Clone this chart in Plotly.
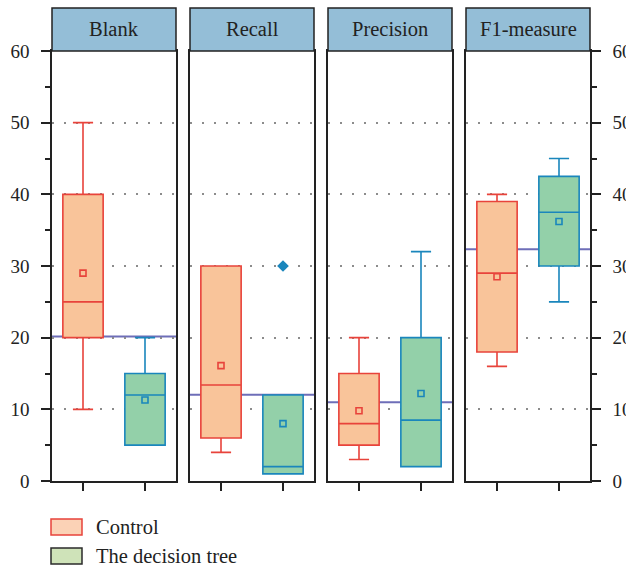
import plotly.graph_objects as go

# Box-plot summaries per measure: (Control, The decision tree)
panels = ["Blank", "Recall", "Precision", "F1-measure"]
groups = ["Control", "The decision tree"]

q1 = [[20, 5], [6, 1], [5, 2], [18, 30]]
median = [[25, 12], [13.4, 2], [8, 8.5], [29, 37.5]]
q3 = [[40, 15], [30, 12], [15, 20], [39, 42.5]]
lower = [[10, 5], [4, 1], [3, 2], [16, 25]]
upper = [[50, 20], [30, 12], [20, 32], [40, 45]]
means = [[29, 11.3], [16.1, 8], [9.8, 12.2], [28.5, 36.2]]
# Outliers: (panel index, group index, value)
outliers = [(1, 1, 30)]

y_ticks = [0, 10, 20, 30, 40, 50, 60]

line_colors = ["#E8433B", "#1A86BC"]
fill_colors = ["#F9C49A", "#93D0A9"]
legend_fill = ["#FBD2B6", "#CFE3B9"]
legend_line = ["#E8433B", "#2B2B2B"]
frame = "#222222"
header_fill = "#94BED7"
mean_line = "#6E6EB8"
font_family = "Liberation Serif, Times New Roman, serif"

fig = go.Figure()

W = 538.0
H = 430.0
starts = [0, 138, 276, 414]
pw = 124

for p in range(4):
    xa = "x" if p == 0 else f"x{p+1}"
    ya = "y" if p == 0 else f"y{p+1}"
    for g in range(2):
        fig.add_trace(go.Box(
            x=[g], q1=[q1[p][g]], median=[median[p][g]], q3=[q3[p][g]],
            lowerfence=[lower[p][g]], upperfence=[upper[p][g]],
            width=0.65, whiskerwidth=0.5, boxpoints=False,
            fillcolor=fill_colors[g],
            line=dict(color=line_colors[g], width=1.6),
            xaxis=xa, yaxis=ya, showlegend=False, name=groups[g],
        ))
        fig.add_trace(go.Scatter(
            x=[g], y=[means[p][g]], mode="markers",
            marker=dict(symbol="square-open", size=6, color=line_colors[g],
                        line=dict(width=1.6, color=line_colors[g])),
            xaxis=xa, yaxis=ya, showlegend=False, hoverinfo="skip",
        ))
    for (op, og, ov) in outliers:
        if op == p:
            fig.add_trace(go.Scatter(
                x=[og], y=[ov], mode="markers",
                marker=dict(symbol="diamond", size=9, color=line_colors[og]),
                xaxis=xa, yaxis=ya, showlegend=False, hoverinfo="skip",
            ))

    # grand mean across both groups
    grand = sum(means[p]) / len(means[p])
    fig.add_shape(type="line", xref=f"{xa} domain", yref=ya,
                  x0=0, x1=1, y0=grand, y1=grand, layer="below",
                  line=dict(color=mean_line, width=2))

    # panel header strip
    fig.add_shape(type="rect", xref=f"{xa} domain", yref="paper",
                  x0=0, x1=1, y0=1, y1=1 + 43 / H,
                  fillcolor=header_fill, line=dict(color=frame, width=1.5))
    fig.add_annotation(text=panels[p], xref=f"{xa} domain", yref="paper",
                       x=0.5, y=1 + 21.5 / H, xanchor="center", yanchor="middle",
                       showarrow=False,
                       font=dict(family=font_family, size=20.5, color="#222"))

    xaxis = dict(
        domain=[starts[p] / W, (starts[p] + pw) / W],
        range=[-0.5, 1.5], tickvals=[0, 1], showticklabels=False,
        ticks="outside", ticklen=8, tickwidth=1.5, tickcolor=frame,
        showline=True, linecolor=frame, linewidth=1.5, mirror=True,
        showgrid=False, zeroline=False, anchor=ya, fixedrange=True,
        automargin=False,
    )
    yaxis = dict(
        range=[0, 60], tickvals=y_ticks, anchor=xa,
        showline=True, linecolor=frame, linewidth=1.5, mirror=True,
        showgrid=True, gridcolor="#8c8c8c", gridwidth=1.5, griddash="2px,10px",
        zeroline=False, fixedrange=True, automargin=False,
    )
    if p == 0:
        yaxis.update(ticks="outside", ticklen=9, tickwidth=1.5, tickcolor=frame,
                     ticklabelstandoff=8,
                     minor=dict(ticks="outside", dtick=5, ticklen=5, tickwidth=1.5,
                                tickcolor=frame, showgrid=False),
                     tickfont=dict(family=font_family, size=19, color="#222"))
    elif p == 3:
        yaxis.update(side="right", ticks="outside", ticklen=9, tickwidth=1.5,
                     tickcolor=frame, ticklabelstandoff=8,
                     minor=dict(ticks="outside", dtick=5, ticklen=5, tickwidth=1.5,
                                tickcolor=frame, showgrid=False),
                     tickfont=dict(family=font_family, size=19, color="#222"))
    else:
        yaxis.update(showticklabels=False, ticks="")
    if p > 0:
        yaxis["matches"] = "y"
    fig.update_layout({("xaxis" if p == 0 else f"xaxis{p+1}"): xaxis,
                       ("yaxis" if p == 0 else f"yaxis{p+1}"): yaxis})

# legend drawn beneath the panels
legend_rows = [-46 / H, -75 / H]
for g in range(2):
    yc = legend_rows[g]
    fig.add_shape(type="rect", xref="paper", yref="paper",
                  x0=-1 / W, x1=30 / W, y0=yc + 8 / H, y1=yc - 8 / H,
                  fillcolor=legend_fill[g], line=dict(color=legend_line[g], width=1.5))
    fig.add_annotation(text=groups[g], xref="paper", yref="paper",
                       x=42 / W, y=yc, xanchor="left", yanchor="middle",
                       showarrow=False,
                       font=dict(family=font_family, size=20.5, color="#222"))

fig.update_layout(
    width=626, height=566,
    margin=dict(l=52, r=36, t=51, b=85),
    paper_bgcolor="white", plot_bgcolor="white",
    showlegend=False,
)

fig.write_html("out.html")
